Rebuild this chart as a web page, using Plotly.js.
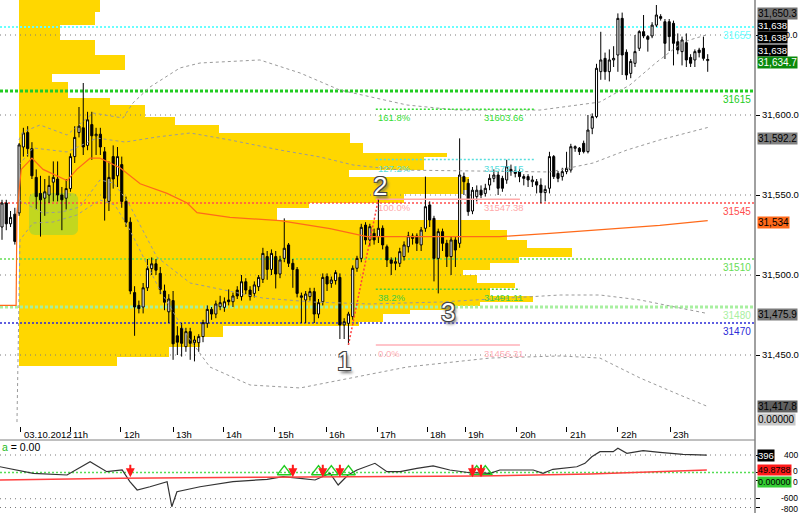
<!DOCTYPE html>
<html><head><meta charset="utf-8">
<script src="https://cdn.plot.ly/plotly-3.0.1.min.js"></script>
<style>html,body{margin:0;padding:0;background:#fff}#chart{width:800px;height:513px}</style>
</head><body><div id="chart"></div>
<script>
// ---------- DATA ----------
const opens = [31530,31545,31532,31538,31538.8,31580,31589,31579,31561,31551,31548,31550,31558,31560,31550,31548,31554,31574,31589,31592,
31581,31594,31587,31588,31577,31546,31574,31562,31569,31546,31533,31489,31481,31480,31492,31504,31507,31501,31490,31477,
31484,31462,31466.7,31455.2,31464.6,31457.7,31457.7,31461.5,31469.8,31478.5,31475.6,31480.2,31479.8,31484.4,31483.3,31490.6,31486.5,31495.8,31490.6,31488.5,
31492.7,31497.3,31511.5,31503.5,31511.5,31500.6,31510.4,31518.8,31507.3,31503.5,31486,31484.4,31486.5,31489.6,31475.6,31483.3,31499,31494.8,31496.5,31498.5,
31468.8,31469.8,31474,31504.2,31510.4,31531.2,31521.9,31526,31524,31529.2,31517.7,31509.4,31507.3,31507.3,31511.5,31517.7,31524.4,31524.4,31518.8,31529.2,
31543.8,31535.4,31510.4,31527.1,31519.8,31511.5,31521.9,31519.8,31561.5,31557.3,31540,31549,31553,31551,31556.2,31560.4,31562.5,31560.4,31559.4,31566,
31565,31564.6,31561.5,31561.5,31558.3,31558.3,31556.2,31551.5,31554.2,31574,31563.5,31561.5,31564.6,31565.6,31579.2,31579.2,31582.3,31577.1,31591.7,31599,
31627.1,31635.4,31627.1,31634.4,31637.5,31660.4,31639.2,31626,31632.3,31641.7,31652.1,31649,31649.4,31656.2,31661.5,31658.3,31658.3,31657.3,31645.8,31639.6,
31645.2,31636,31634.4,31640.6,31641.7,31634];
const highs = [31547,31547,31540,31542,31582.5,31592,31593,31583,31566,31562,31560,31562,31571,31571,31555,31560,31576,31593,31605,31620,
31602,31602,31592,31592,31580,31571,31581,31580,31574,31549,31536,31493,31484,31495,31510,31511,31510,31505,31494,31488,
31490,31468,31470,31467,31467,31462,31463,31472,31481,31480,31484,31487,31486,31491,31489,31493,31500,31498,31493,31496,
31500,31517,31515,31516,31515,31512,31535.4,31520,31510,31505,31489,31490,31492,31492,31485,31501,31501,31499,31503,31501,
31473,31477,31506,31512,31532,31533,31532,31529,31547.4,31531,31519,31511,31511,31517,31521,31527,31526,31526,31530,31561.5,
31546,31537,31529,31529,31522,31524,31524,31585.4,31564,31560,31555,31556,31556,31557,31563,31566,31565,31562,31572,31569,
31568,31566,31563,31563,31562,31560,31560.4,31556,31577,31575,31565,31567,31577,31582,31581,31580,31584,31600,31601,31632,
31652,31639,31641,31643,31663.5,31664,31641,31635,31650,31653,31662.5,31650,31658,31668.75,31663,31660,31660,31659,31651,31649,
31651,31638,31641,31642,31649,31638];
const lows = [31522,31528,31530,31519,31537,31574,31574,31560,31541,31524,31537,31545,31546,31546,31528,31541,31552,31570,31586,31575,
31578,31572,31575,31575,31534,31540,31554,31555,31542,31530,31488,31462,31476,31476,31490,31500,31500,31488,31478,31470,
31447,31450,31449,31452,31447,31446,31452,31458,31467,31472,31473,31478,31477,31481,31480,31485,31484,31488,31484,31486,
31490,31495,31497,31500,31491.6,31498,31508,31505,31492,31486,31470,31470,31484,31470,31473,31481,31490,31492,31494,31460,
31460,31456.3,31472,31502,31508,31519,31518,31519,31520,31516,31505,31500,31503,31505,31509,31514,31519,31515,31515,31527,
31530,31496,31488.5,31515,31505,31500,31505,31517,31550,31537,31538,31546,31548,31549,31553,31558,31550,31552,31557,31562,
31561,31558,31556,31555,31555,31551,31544.8,31546,31551,31560,31558,31559,31563,31564,31577,31575,31576,31576,31588,31598,
31622,31622,31621,31630,31627,31625,31622,31623,31630,31640,31648,31639.6,31648,31655,31659,31635,31640,31631,31638,31631,
31630,31630,31630,31636,31634,31627];
const closes = [31545,31532,31536,31521,31581.3,31588.8,31579,31562,31549,31547,31552,31556,31561,31550,31547,31554,31574,31586,31593,31580,
31597,31587,31588,31580,31548,31561,31560,31574,31546,31533,31490,31480,31479,31492,31504,31507,31503,31491,31483,31485,
31457,31458,31457.3,31464.6,31457.3,31459.4,31461.5,31470.2,31478.5,31475.6,31481.9,31482.7,31483.3,31483.3,31486.9,31486.9,31495.8,31490.6,31486.5,31493.8,
31498.5,31513.5,31503.5,31513.5,31500.6,31509.4,31516.7,31507.3,31503.5,31488.5,31487,31488.1,31489.6,31475.6,31482.7,31498.5,31494.4,31496.9,31501.5,31468.8,
31470.8,31475.6,31504.2,31510.4,31529.8,31521.9,31530.2,31521.9,31529.2,31518.8,31509.4,31507.3,31508.3,31514.6,31518.8,31524.4,31522.9,31519.8,31528.1,31542.7,
31534.4,31510.4,31527.1,31519.8,31511.5,31521.9,31515.6,31562.5,31558.3,31539.6,31553,31553,31550,31554.2,31560.4,31562.5,31554.2,31554.2,31567.7,31564.6,
31563.5,31561.5,31560.4,31559.4,31559.4,31556.2,31551.5,31553.5,31574,31561.5,31560.4,31564.6,31566.7,31580.2,31580.2,31577.1,31577.1,31590.6,31599,31629.2,
31634.4,31627.1,31634.4,31635.4,31660.4,31637.5,31625,31633.5,31639.6,31652.1,31649.4,31647.3,31656.2,31662.5,31660.4,31644.8,31649,31644.8,31640.6,31646.9,
31634.4,31632.3,31639.6,31639,31635.4,31634.7];

// hour ticks (bar index) and labels
const hourBars = [4.4,15.9,27.8,40.0,51.7,63.8,75.8,87.7,99.4,108.3,120.4,132.1,144.0,156.2];
const hourLabels = ['03.10.2012','11h','12h','13h','14h','15h','16h','17h','18h','19h','20h','21h','22h','23h'];

// volume profile: band top prices, volume per band, bottom of last band
const profLevels = [31672,31664.4,31656.3,31646.9,31637.5,31628.1,31625.6,31620.6,31610.6,31606.3,31598.8,31593.8,31588.8,31582.5,31576.3,31573.8,31565.6,31561.3,31553.1,31550.6,
31545.0,31541.9,31534.4,31528.1,31521.9,31516.9,31511.3,31507.5,31503.1,31500.0,31495.0,31491.9,31486.9,31483.1,31480.6,31478.1,31475.6,31470.6,31468.1,31461.3,31455.0,31448.8];
const profVolume = [81,76,41,76,106,81,33,49,91,126,156,200,331,344,428,405,330,450,444,385,
290,258,471,488,508,553,500,471,444,458,496,471,514,461,431,391,364,340,204,181,150,98];
const profBottom = 31443.1;

// VWAP and deviation bands: [bar, price] knots
const vwapBars  = [-0.5,3.3,3.5,4.5,7.0,9.6,15.2,17.5,20.6,22.9,27.6,32.3,38.6,43.3,45.6,53.3,65.0,76.7,85.3,93.1,107.1,116.4,128.1,142.2,153.8,165];
const vwapVals  = [31481,31481,31539,31566,31573,31566,31559,31566,31573,31573,31567,31557,31551,31545,31539,31536,31534,31529,31524,31524,31524,31524,31526,31529,31531,31534];
const up2Bars = [3.97,4.91,8.88,15.2,21.3,28.3,30.6,34.6,41.6,46.3,60.3,69.7,79.0,94.7,106.4,125.8,139.8,146.8,153.1,159.2,165];
const up2Vals = [31584.4,31589.4,31593.75,31587.5,31601.25,31598.1,31607.5,31617.5,31629.4,31632.5,31634.4,31626.25,31615.6,31606.25,31603.1,31603.1,31608.1,31618.75,31633.1,31645.6,31650.3];
const up1Bars = [3.97,7.25,15.2,22.2,28.8,36.2,44.0,53.3,65.0,74.4,82.1,93.1,128.1,138.2,146.1,153.8,165];
const up1Vals = [31568.75,31579.4,31576.9,31585.6,31583.1,31586.25,31588.75,31584.4,31578.1,31573.75,31568.75,31565.6,31564.4,31570,31578.1,31584.4,31592.2];
const lo1Bars = [3.97,9.59,14.0,18.2,22.9,26.0,29.2,36.2,44.0,46.3,61.0,72.7,86.0,102.4,118.1,130.5,139.8,149.2,165];
const lo1Vals = [31546.9,31538.75,31539.4,31542.5,31559.4,31557.5,31546.9,31511.25,31495,31493.75,31485.6,31483.1,31481.9,31483.1,31485.6,31487.5,31487.5,31484.4,31475.9];
const lo2Bars = [3.5,4.2,7.25,11.9,17.5,22.9,26.4,29.9,36.9,44.0,48.6,58.0,69.7,79.0,94.7,114.1,130.5,139.8,149.2,158.5,165];
const lo2Vals = [31408.1,31521.9,31532.5,31533.1,31537.5,31546.9,31543.75,31528.1,31490.6,31459.4,31442.5,31431.25,31429.4,31434.4,31442.5,31448.1,31449.4,31448.1,31435.6,31425,31417.8];

// horizontal key levels
const levelPrices = [31655,31615,31545,31510,31480,31470];
const levelColors = ['#66ffff','#22cc22','#ff4d4d','#66dd55','#a8f0a0','#2a2ad8'];
const gridPrices = [31450,31500,31550,31600,31650];

// Fibonacci retracement
const fibPcts   = ['161.8%','127.2%','100.0%','38.2%','0.0%'];
const fibPrices = [31603.66,31572.15,31547.38,31491.11,31456.31];
const fibColors = ['#33dd33','#55dddd','#ffaaaa','#44cc44','#ffb0b8'];

// lower indicator
const oscBars = [-0.5,7.3,15.2,20.6,24.5,28.1,29.9,31.6,34.6,38.6,39.7,40.9,46.3,54,62,65.7,69.7,73.2,76.7,78.6,80.9,83,87.2,90,93.1,97,100.8,104.7,109.4,114.1,116.4,124.2,126.5,128.8,134.4,136.3,137.9,139.8,142.9,144,146.1,149.9,153.8,159.2,164.8];
const oscVals = [132,-18,-57,247,18,57,-210,-400,-325,-210,-782,-439,-325,-210,-155,-96,-133,-171,-18,-286,-57,57,210,18,18,96,149,57,-5,-18,57,57,-18,73,132,210,361,475,475,553,439,498,462,416,396];
const sigBars = [-0.5,27.6,60.3,93.1,111.8,137.5,151.5,164.8];
const sigVals = [4.5,12.2,16.8,21,22.7,31.7,40.8,49.8788];
const sellBars = [30,68,75,79,110,112];
const buyBars  = [66,74,77,81,111,113];

// ---------- GEOMETRY ----------
const W = 800, H = 513;
const plotRightPx = 755, mainBottomPx = 426, panelTopPx = 441;
const barPx = 4.277, bar0Px = 2, pxPerPoint = 1.6;
const priceTop = 31671.875, priceBottom = priceTop - mainBottomPx / pxPerPoint;
const xRange = [-bar0Px / barPx, (plotRightPx - bar0Px) / barPx];
const profBasePx = 19;
const profRange = [-profBasePx, plotRightPx - profBasePx];
const py = y => 1 - y / H;
const xDomEnd = plotRightPx / W;
const oscRange = [-925.7, 720];
const sigRange = [-145.1, 181.4];
const barToProf = b => (b - xRange[0]) / (xRange[1] - xRange[0]) * plotRightPx - profBasePx;
const bars = closes.map((_, i) => i);
const FONT = 'Liberation Sans, Arial, sans-serif';

const traces = [];
// volume profile
traces.push({type:'scatter', mode:'lines', xaxis:'x', yaxis:'y',
  x: profVolume.concat([profVolume[profVolume.length-1]]),
  y: profLevels.concat([profBottom]),
  line:{shape:'vh', width:0, color:'rgba(0,0,0,0)'}, fill:'tozerox', fillcolor:'#FFD700', hoverinfo:'skip'});
// highlight box (rounded) in bars 6.3-17.8, 31525-31551
(function(){
  const b0=6.3,b1=17.8,pHi=31551.25,pLo=31525, r=6;
  const x0=barToProf(b0), x1=barToProf(b1);
  const y0=(priceTop-pHi)*pxPerPoint, y1=(priceTop-pLo)*pxPerPoint;
  const pts=[];
  const corner=(cx,cy,a0)=>{for(let k=0;k<=6;k++){const a=(a0+k*15)*Math.PI/180;pts.push([cx+r*Math.cos(a),cy+r*Math.sin(a)]);}};
  corner(x1-r,y0+r,270); corner(x1-r,y1-r,0); corner(x0+r,y1-r,90); corner(x0+r,y0+r,180);
  pts.push(pts[0]);
  traces.push({type:'scatter',mode:'lines',xaxis:'x',yaxis:'y',x:pts.map(p=>p[0]),y:pts.map(p=>priceTop-p[1]/pxPerPoint),
    fill:'toself',fillcolor:'rgba(185,215,35,0.88)',line:{width:0,color:'rgba(0,0,0,0)'},hoverinfo:'skip'});
})();
// gridlines and key levels (above profile)
gridPrices.forEach(p=>traces.push({type:'scatter',mode:'lines',xaxis:'x',yaxis:'y',x:profRange,y:[p,p],
  line:{color:'#7a7a7a',width:1,dash:'1px,4px'},hoverinfo:'skip'}));
const levelStyles=[[2,'2px,2px'],[3,'3px,2px'],[1.5,'2px,2px'],[1.5,'2px,2px'],[3,'3px,2px'],[1.5,'2px,2px']];
levelPrices.forEach((p,i)=>traces.push({type:'scatter',mode:'lines',xaxis:'x',yaxis:'y',x:profRange,y:[p,p],
  line:{color:levelColors[i],width:levelStyles[i][0],dash:levelStyles[i][1]},hoverinfo:'skip'}));
// bands and vwap
[[up2Bars,up2Vals],[up1Bars,up1Vals],[lo1Bars,lo1Vals],[lo2Bars,lo2Vals]].forEach(([bx,by])=>traces.push({type:'scatter',mode:'lines',xaxis:'x2',yaxis:'y',
  x:bx,y:by,line:{color:'#9a9a9a',width:1,dash:'3px,3px'},hoverinfo:'skip'}));
traces.push({type:'scatter',mode:'lines',xaxis:'x2',yaxis:'y',x:vwapBars,y:vwapVals,line:{color:'#ff6a1a',width:1.2},hoverinfo:'skip'});
// candles
traces.push({type:'candlestick',xaxis:'x2',yaxis:'y',x:bars,open:opens,high:highs,low:lows,close:closes,
  increasing:{line:{color:'#000',width:1},fillcolor:'#ffffff'},
  decreasing:{line:{color:'#000',width:1},fillcolor:'#000000'},whiskerwidth:0,hoverinfo:'skip'});
// lower panel
traces.push({type:'scatter',mode:'lines',xaxis:'x3',yaxis:'y4',x:sigBars,y:sigVals,line:{color:'#ff4040',width:1.5},hoverinfo:'skip'});
traces.push({type:'scatter',mode:'lines',xaxis:'x3',yaxis:'y3',x:oscBars,y:oscVals,line:{color:'#333',width:1.2},hoverinfo:'skip'});
traces.push({type:'scatter',mode:'markers',xaxis:'x3',yaxis:'y3',x:buyBars,y:buyBars.map(()=>20),
  marker:{symbol:'triangle-up-open',size:12,color:'#22cc22',line:{width:1.5,color:'#22cc22'}},hoverinfo:'skip'});

// ---------- SHAPES ----------
const shapes = [];
shapes.push({type:'line',xref:'paper',yref:'paper',x0:xDomEnd,x1:xDomEnd,y0:0,y1:1,line:{color:'#808080',width:1.5}});
shapes.push({type:'line',xref:'paper',yref:'paper',x0:0,x1:xDomEnd,y0:py(440),y1:py(440),line:{color:'#808080',width:1}});
[400,-600,-800].forEach(v=>shapes.push({type:'line',xref:'paper',yref:'y3',x0:0,x1:xDomEnd,y0:v,y1:v,layer:'below',line:{color:'#7a7a7a',width:1,dash:'1px,4px'}}));
shapes.push({type:'line',xref:'paper',yref:'y3',x0:0,x1:xDomEnd,y0:0,y1:0,layer:'below',line:{color:'#55dd55',width:1.5,dash:'2px,2px'}});
// fib lines
const fibStart=87.4, fibEnd=[124.6,124.6,121.1,121.1,121.1];
fibPrices.forEach((p,i)=>shapes.push({type:'line',xref:'x2',yref:'y',x0:fibStart,x1:fibEnd[i],y0:p,y1:p,
  line:{color:fibColors[i],width:1.5,dash:(i===2||i===4)?'solid':'2px,2px'}}));
// 1 -> 2 swing
shapes.push({type:'line',xref:'x2',yref:'y',x0:81,y0:lows[81],x1:88,y1:highs[88],line:{color:'#ff4040',width:1.5,dash:'2px,2px'}});

// ---------- ANNOTATIONS ----------
const ann = [];
const f = (s,c)=>({family:FONT,size:s,color:c});
hourBars.forEach((b,i)=>ann.push({xref:'x2',yref:'paper',x:b,y:py(434),xanchor:'left',yanchor:'middle',xshift:1,showarrow:false,text:hourLabels[i],font:f(9.5,'#000')}));
levelPrices.forEach((p,i)=>ann.push({xref:'paper',yref:'y',x:753/W,y:p,xanchor:'right',yanchor:'top',yshift:-1,showarrow:false,text:String(p),font:f(10,levelColors[i])}));
fibPrices.forEach((p,i)=>{
  ann.push({xref:'x2',yref:'y',x:fibStart,y:p,xanchor:'left',yanchor:'top',yshift:-1,showarrow:false,text:fibPcts[i],font:f(9.5,fibColors[i])});
  ann.push({xref:'x2',yref:'y',x:112.2,y:p,xanchor:'left',yanchor:'top',yshift:-1,showarrow:false,text:p.toFixed(2),font:f(9.5,fibColors[i])});
});
const bigFont={family:'Liberation Sans, Arial, sans-serif',size:26,color:'#ffffff',
  shadow:'1px 1px 0 #444, -1px -1px 0 #444, 1px -1px 0 #444, -1px 1px 0 #444, 2px 3px 3px #666'};
ann.push({xref:'x2',yref:'y',x:80,y:lows[81],yanchor:'middle',yshift:-16,showarrow:false,text:'1',font:bigFont});
ann.push({xref:'x2',yref:'y',x:88.4,y:highs[88],yanchor:'middle',yshift:13,showarrow:false,text:'2',font:bigFont});
ann.push({xref:'x2',yref:'y',x:104.3,y:lows[102],yanchor:'middle',yshift:-19,showarrow:false,text:'3',font:bigFont});
// sell arrows
sellBars.forEach(b=>ann.push({xref:'x3',yref:'y3',x:b,y:-110,ax:0,ay:-14,showarrow:true,arrowhead:2,arrowsize:0.9,arrowwidth:2,arrowcolor:'#ff1a1a',text:''}));
// right side value tags
const fmt=(v,d)=>v.toLocaleString('en-US',{minimumFractionDigits:d,maximumFractionDigits:d});
const last = closes[closes.length-1];
const tags = [
  [fmt(up2Vals[up2Vals.length-1],1),13,'#707070','#000',10],
  ['31,638',25,'#000','#fff',9.5],['31,638',37.5,'#000','#fff',9.5],['31,638',50,'#000','#fff',9.5],
  [fmt(last,1),62,'#0a8a0a','#fff',10],
  [fmt(up1Vals[up1Vals.length-1],1),139,'#808080','#000',10],
  [fmt(vwapVals[vwapVals.length-1],0),222,'#ff6a1a','#000',10],
  [fmt(lo1Vals[lo1Vals.length-1],1),314,'#7a7a7a','#000',10],
  [fmt(lo2Vals[lo2Vals.length-1],1),406,'#606060','#000',10],
  ['0.00000',419,'#c8c8c8','#000',10],
  [String(oscVals[oscVals.length-1]),455,'#000','#fff',9.5],
  [fmt(sigVals[sigVals.length-1],4),470,'#ff1a1a','#000',9],
  ['0.00000',481.5,'#33cc33','#000',9]
];
// lower axis labels (right-aligned)
[['400',455],['0',471],['0',482],['-600',498],['-800',508.5]].forEach(([t,y])=>ann.push({xref:'paper',yref:'paper',x:1,y:py(y),xanchor:'right',yanchor:'middle',showarrow:false,text:t,font:f(8.5,'#000')}));
// fragment of the 31,650.0 axis label peeking out behind the tags
ann.push({xref:'paper',yref:'paper',x:1,y:py(35),xanchor:'right',yanchor:'middle',showarrow:false,text:'0.0',font:f(9,'#000')});
tags.forEach(([t,y,bg,c,s])=>ann.push({xref:'paper',yref:'paper',x:757/W,y:py(y),xanchor:'left',yanchor:'middle',showarrow:false,text:t,bgcolor:bg,borderpad:0,font:f(s,c)}));
ann.push({xref:'paper',yref:'paper',x:0,y:py(447),xanchor:'left',yanchor:'middle',showarrow:false,
  text:'<span style="color:#22bb22">a</span> = 0.00',font:f(10.5,'#000')});

const layout = {
  width:W,height:H,margin:{l:0,r:0,t:0,b:0},paper_bgcolor:'#fff',plot_bgcolor:'#fff',showlegend:false,
  font:{family:FONT,size:10,color:'#000'},
  xaxis:{domain:[0,xDomEnd],range:profRange,visible:false,fixedrange:true},
  xaxis2:{domain:[0,xDomEnd],overlaying:'x',anchor:'y',range:xRange,side:'bottom',showgrid:false,zeroline:false,showline:false,
    tickmode:'array',tickvals:hourBars,ticks:'outside',ticklen:5,tickcolor:'#000',showticklabels:false,rangeslider:{visible:false}},
  yaxis:{domain:[py(mainBottomPx),1],range:[priceBottom,priceTop],side:'right',anchor:'x',showgrid:false,zeroline:false,
    tickmode:'array',tickvals:gridPrices,ticktext:gridPrices.map(p=>p===31650?'':fmt(p,1)),ticks:'outside',ticklen:4,tickcolor:'#000',tickfont:{family:FONT,size:9.5,color:'#000'}},
  xaxis3:{domain:[0,xDomEnd],anchor:'y3',range:xRange,visible:false},
  yaxis3:{domain:[0,py(panelTopPx)],anchor:'x3',range:oscRange,side:'right',showgrid:false,zeroline:false,
    tickmode:'array',tickvals:[400,0,-194,-600,-800],ticks:'outside',ticklen:4,tickcolor:'#000',showticklabels:false},
  yaxis4:{overlaying:'y3',range:sigRange,visible:false},
  shapes:shapes,annotations:ann
};
Plotly.newPlot('chart',traces,layout,{staticPlot:true,displayModeBar:false});
</script></body></html>
